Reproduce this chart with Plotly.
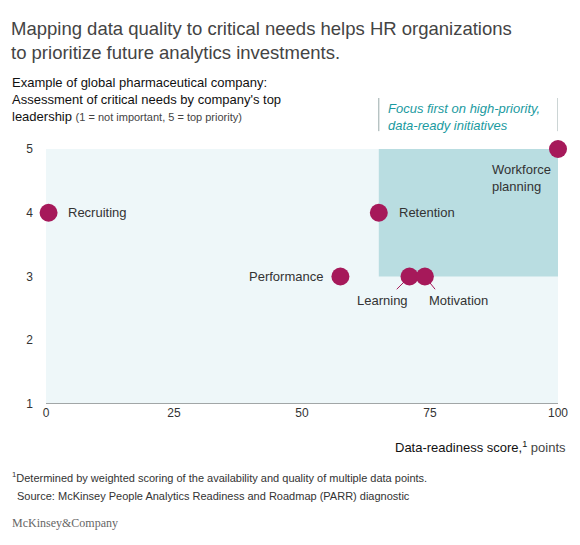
import plotly.graph_objects as go

names = ["Recruiting", "Retention", "Workforce<br>planning", "Performance", "Learning", "Motivation"]
readiness = [0.5, 65, 100, 57.5, 71, 74]
priority = [4, 4, 5, 3, 3, 3]
x_ticks = [0, 25, 50, 75, 100]
y_ticks = [1, 2, 3, 4, 5]

dot = "#a6195a"
teal = "#1a9aa0"
font = "Liberation Sans, Arial, sans-serif"

fig = go.Figure()
fig.add_shape(type="rect", x0=0, x1=100, y0=1, y1=5, fillcolor="#eef7f9", line_width=0, layer="below")
fig.add_shape(type="rect", x0=65, x1=100, y0=3, y1=5, fillcolor="#b9dde1", line_width=0, layer="below")
fig.add_shape(type="line", x0=0, x1=100, y0=1, y1=1, line=dict(color="#555", width=1))
for x in (65, 100):
    fig.add_shape(type="line", xref="x", yref="paper", x0=x, x1=x, y0=1.2, y1=1.07,
                  line=dict(color="#9aa", width=1))
# leader lines for the clustered points
fig.add_shape(type="line", x0=71, x1=68.5, y0=3, y1=2.8, line=dict(color=dot, width=1))
fig.add_shape(type="line", x0=74, x1=76, y0=3, y1=2.8, line=dict(color=dot, width=1))

fig.add_trace(go.Scatter(x=readiness, y=priority, mode="markers",
                         marker=dict(size=18, color=dot), cliponaxis=False, hoverinfo="skip"))

label_pos = [
    (3.5, 0, "left", "middle"),
    (3.5, 0, "left", "middle"),
    (-1, -0.17, "right", "top"),
    (-3, 0, "right", "middle"),
    (0, -0.22, "right", "top"),
    (0.5, -0.22, "left", "top"),
]
for n, x, y, (dx, dy, xa, ya) in zip(names, readiness, priority, label_pos):
    fig.add_annotation(x=x + dx, y=y + dy, text=n, showarrow=False, xanchor=xa, yanchor=ya,
                       align="left", font=dict(size=13, color="#333"))

fig.add_annotation(xref="x", yref="paper", x=66.5, y=1.195, xanchor="left", yanchor="top",
                   text="<i>Focus first on high-priority,<br>data-ready initiatives</i>",
                   showarrow=False, align="left", font=dict(size=13, color=teal))

fig.add_annotation(xref="paper", yref="paper", x=-0.073, y=1.52, xanchor="left", yanchor="top",
                   align="left", showarrow=False, font=dict(size=18.5, color="#444"),
                   text="Mapping data quality to critical needs helps HR organizations<br>"
                        "to prioritize future analytics investments.")
fig.add_annotation(xref="paper", yref="paper", x=-0.07, y=1.3, xanchor="left", yanchor="top",
                   align="left", showarrow=False, font=dict(size=13, color="#111"),
                   text="Example of global pharmaceutical company:<br>Assessment of critical needs by company's top<br>"
                        "leadership <span style='font-size:11px;color:#444'>(1 = not important, 5 = top priority)</span>")
fig.add_annotation(xref="paper", yref="paper", x=1.02, y=-0.13, xanchor="right", yanchor="top",
                   showarrow=False, font=dict(size=13, color="#111"),
                   text="Data-readiness score,<sup>1</sup> <span style='color:#444'>points</span>")
fig.add_annotation(xref="paper", yref="paper", x=-0.07, y=-0.25, xanchor="left", yanchor="top",
                   showarrow=False, font=dict(size=11, color="#333"),
                   text="<sup>1</sup>Determined by weighted scoring of the availability and quality of multiple data points.")
fig.add_annotation(xref="paper", yref="paper", x=-0.06, y=-0.33, xanchor="left", yanchor="top",
                   showarrow=False, font=dict(size=11, color="#333"),
                   text="Source: McKinsey People Analytics Readiness and Roadmap (PARR) diagnostic")
fig.add_annotation(xref="paper", yref="paper", x=-0.07, y=-0.43, xanchor="left", yanchor="top",
                   showarrow=False, font=dict(size=12, color="#666", family="Liberation Serif, serif"),
                   text="McKinsey&Company")

fig.update_layout(
    width=580, height=545,
    margin=dict(l=38, r=30, t=141, b=149, autoexpand=False),
    paper_bgcolor="white", plot_bgcolor="white",
    showlegend=False,
    font=dict(family=font, color="#333", size=13),
    xaxis=dict(range=[0, 100], tickvals=x_ticks, showgrid=False, zeroline=False, automargin=False,
               showline=False, ticks="", tickfont=dict(size=12, color="#333")),
    yaxis=dict(range=[1, 5], tickvals=y_ticks, showgrid=False, zeroline=False, automargin=False,
               showline=False, ticks="", ticklabelstandoff=12, tickfont=dict(size=12, color="#333")),
)

fig.write_html("out.html")
